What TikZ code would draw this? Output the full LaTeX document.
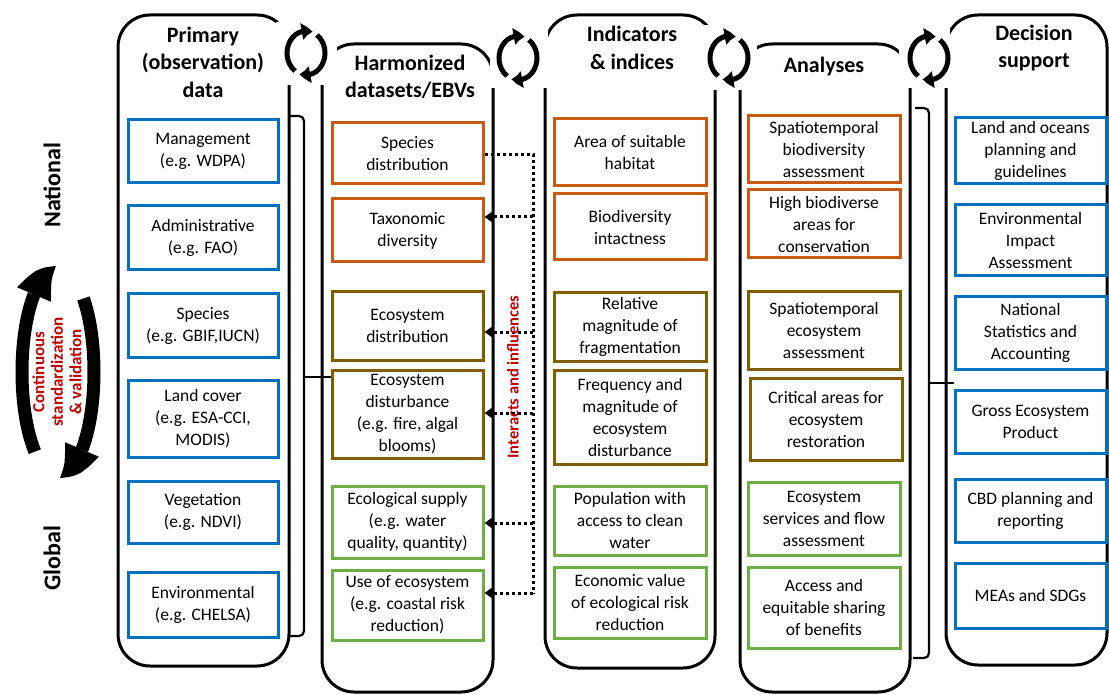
\documentclass[tikz,border=0pt]{standalone}
\usepackage{fontspec}
\setmainfont{Carlito}
\usetikzlibrary{arrows.meta,bending}
\definecolor{cblue}{HTML}{0070C0}
\definecolor{corange}{HTML}{C55A11}
\definecolor{colive}{HTML}{7F6000}
\definecolor{cgreen}{HTML}{70AD47}
\definecolor{cred}{HTML}{C00000}
\newcommand\mkbox[7]{%
  \pgfmathsetmacro\bw{#5-#3}\pgfmathsetmacro\bh{#6-#4}%
  \node[#1,minimum width=\bw pt,minimum height=\bh pt] (#2) at ({(#3+#5)/2},{(#4+#6)/2}) {#7};}
\begin{document}
\begin{tikzpicture}[x=1pt,y=-1pt,
  colbox/.style={draw=black,line width=3pt,rounded corners=32pt,inner sep=0pt},
  box/.style={line width=3pt,inner sep=0pt,align=center,font=\fontsize{17.5}{22}\selectfont,fill=white},
  bb/.style={box,draw=cblue},
  bo/.style={box,draw=corange},
  bl/.style={box,draw=colive},
  bg/.style={box,draw=cgreen},
  title/.style={align=center,font=\fontsize{22}{27.5}\selectfont\bfseries},
  side/.style={rotate=90,font=\fontsize{24}{28}\selectfont\bfseries},
  dotline/.style={line width=3pt,dash pattern=on 3pt off 3pt},
  dotarrow/.style={dotline,-{Triangle[length=9pt,width=12pt]}},
  bracestyle/.style={line width=2.2pt,rounded corners=5pt},
  cyc/.style={line width=5pt,-{Triangle[bend,length=11pt,width=16pt]}},
  bigcyc/.style={line width=13pt,-{Triangle[bend,length=28pt,width=38pt]}}
]
\useasboundingbox (0,0) rectangle (1109,695);
% columns
\mkbox{colbox}{col1}{118}{15}{289}{666}{}
\mkbox{colbox}{col2}{322}{44}{493}{692}{}
\mkbox{colbox}{col3}{545}{15}{715}{668}{}
\mkbox{colbox}{col4}{740}{44}{910}{692}{}
\mkbox{colbox}{col5}{946}{15}{1107}{665}{}
% icon backgrounds
\fill[white] (276,22) rectangle (337,85);
\fill[white] (490,25) rectangle (548,88);
\fill[white] (704,25) rectangle (757,90);
\fill[white] (899,25) rectangle (950,88);
% cycle icons
\foreach \n/\cx/\cy in {ic1/306/53, ic2/518/58, ic3/729/58, ic4/929/58}{
  \coordinate (\n) at (\cx,\cy);
  \draw[cyc] (\n) ++(125:19 and 22) arc[start angle=125,end angle=290,x radius=19,y radius=22];
  \draw[cyc] (\n) ++(305:19 and 22) arc[start angle=305,end angle=470,x radius=19,y radius=22];
}
% titles
\node[title] (t1) at (203,62) {Primary\\(observation)\\data};
\node[title] (t2) at (410,77) {Harmonized\\datasets/EBVs};
\node[title] (t3) at (632,48) {Indicators\\\& indices};
\node[title] (t4) at (824,67) {Analyses};
\node[title] (t5) at (1034,48) {Decision\\support};
% column 1
\mkbox{bb}{p1}{128}{120}{278}{183}{Management\\(e.g. WDPA)}
\mkbox{bb}{p2}{128}{206}{278}{270}{Administrative\\(e.g. FAO)}
\mkbox{bb}{p3}{128}{294}{278}{357}{Species\\(e.g. GBIF,IUCN)}
\mkbox{bb}{p4}{128}{380}{278}{457}{Land cover\\(e.g. ESA-CCI,\\MODIS)}
\mkbox{bb}{p5}{128}{481}{278}{543}{Vegetation\\(e.g. NDVI)}
\mkbox{bb}{p6}{128}{572}{278}{637}{Environmental\\(e.g. CHELSA)}
% column 2
\mkbox{bo}{h1}{332}{123}{483}{184}{Species\\distribution}
\mkbox{bo}{h2}{332}{199}{483}{262}{Taxonomic\\diversity}
\mkbox{bl}{h3}{332}{292}{483}{360}{Ecosystem\\distribution}
\mkbox{bl}{h4}{332}{370}{483}{458}{Ecosystem\\disturbance\\(e.g. fire, algal\\blooms)}
\mkbox{bg}{h5}{332}{486}{483}{558}{Ecological supply\\(e.g. water\\quality, quantity)}
\mkbox{bg}{h6}{332}{570}{483}{640}{Use of ecosystem\\(e.g. coastal risk\\reduction)}
% column 3
\mkbox{bo}{n1}{554}{119}{706}{186}{Area of suitable\\habitat}
\mkbox{bo}{n2}{554}{194}{706}{260}{Biodiversity\\intactness}
\mkbox{bl}{n3}{554}{293}{706}{361}{Relative\\magnitude of\\fragmentation}
\mkbox{bl}{n4}{554}{370}{706}{464}{Frequency and\\magnitude of\\ecosystem\\disturbance}
\mkbox{bg}{n5}{554}{486}{706}{555}{Population with\\access to clean\\water}
\mkbox{bg}{n6}{554}{567}{706}{638}{Economic value\\of ecological risk\\reduction}
% column 4
\mkbox{bo}{a1}{748}{116}{900}{183}{Spatiotemporal\\biodiversity\\assessment}
\mkbox{bo}{a2}{748}{190}{900}{258}{High biodiverse\\areas for\\conservation}
\mkbox{bl}{a3}{748}{292}{900}{369}{Spatiotemporal\\ecosystem\\assessment}
\mkbox{bl}{a4}{750}{378}{902}{460}{Critical areas for\\ecosystem\\restoration}
\mkbox{bg}{a5}{748}{482}{900}{555}{Ecosystem\\services and flow\\assessment}
\mkbox{bg}{a6}{748}{567}{900}{648}{Access and\\equitable sharing\\of benefits}
% column 5
\mkbox{bb}{d1}{955}{118}{1106}{184}{Land and oceans\\planning and\\guidelines}
\mkbox{bb}{d2}{955}{205}{1106}{276}{Environmental\\Impact\\Assessment}
\mkbox{bb}{d3}{955}{297}{1106}{369}{National\\Statistics and\\Accounting}
\mkbox{bb}{d4}{955}{390}{1106}{453}{Gross Ecosystem\\Product}
\mkbox{bb}{d5}{955}{479}{1106}{542}{CBD planning and\\reporting}
\mkbox{bb}{d6}{955}{563}{1106}{628}{MEAs and SDGs}
% braces
\draw[bracestyle] (290,116) -- (304,116) -- (304,636) -- (290,636);
\coordinate (b1m) at (304,377);
\draw[line width=2.2pt] (b1m) -- (b1m -| h4.west);
\draw[bracestyle] (915,108) -- (929,108) -- (929,658) -- (913,658);
\coordinate (b2m) at (929,383);
\coordinate (b2e) at (954,383);
\draw[line width=2.2pt] (b2m) -- (b2e);
% dotted connectors
\coordinate (tt) at (533,155);
\coordinate (tb) at (533,593);
\draw[dotline] (h1.east |- tt) -- (tt) -- (tb);
\foreach \tg/\yy in {h2/217, h3/332, h4/413, h5/523, h6/593}{
  \coordinate (c\tg) at (533,\yy);
  \draw[dotarrow] (c\tg) -- (c\tg -| \tg.east);
}
\node[rotate=90,text=cred,font=\fontsize{16.5}{18}\selectfont\bfseries] (ii) at (513,377) {Interacts and influences};
% left side
\node[side] (national) at (52,185) {National};
\node[side] (global) at (52,558) {Global};
\coordinate (cc) at (58,372);
\draw[bigcyc] (cc) ++(130:36 and 104) arc[start angle=130,end angle=268,x radius=36,y radius=104];
\draw[bigcyc] (cc) ++(315:36 and 104) arc[start angle=315,end angle=448,x radius=36,y radius=104];
\node[rotate=90,align=center,text=cred,font=\fontsize{17}{18.5}\selectfont\bfseries] (csv) at (57,372) {Continuous\\standardization\\\& validation};
\end{tikzpicture}
\end{document}
